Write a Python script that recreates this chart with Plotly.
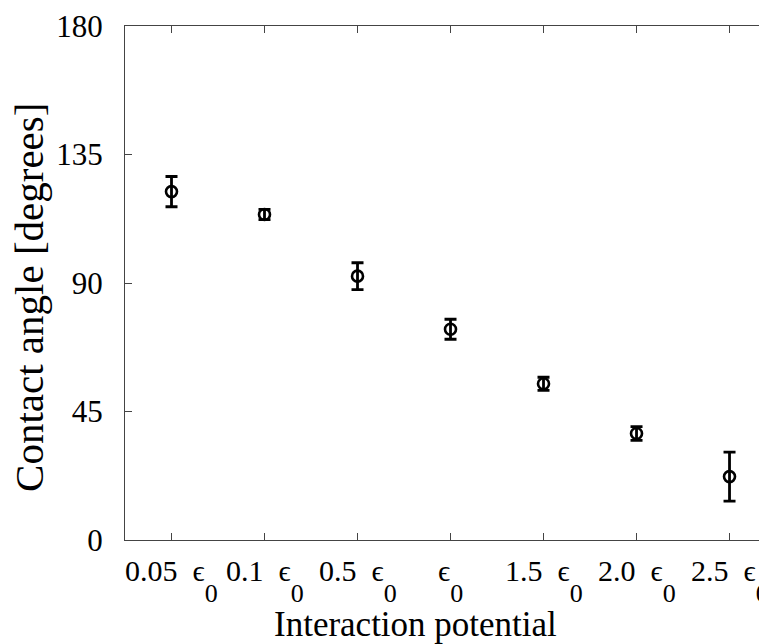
import plotly.graph_objects as go

NB = "\u00a0\u00a0"
SUB0 = "<span style='font-size:26px;baseline-shift:-21px'>0</span>"
categories = ["0.05" + NB + "ϵ", "0.1" + NB + "ϵ", "0.5" + NB + "ϵ", "ϵ",
              "1.5" + NB + "ϵ", "2.0" + NB + "ϵ", "2.5" + NB + "ϵ"]
angles = [122.0, 114.0, 92.4, 73.8, 54.7, 37.3, 22.2]
errors = [5.3, 1.8, 4.7, 3.5, 2.3, 2.4, 8.6]
y_ticks = [0, 45, 90, 135, 180]

x_idx = list(range(len(categories)))

fig = go.Figure()
fig.add_trace(go.Scatter(
    x=x_idx, y=angles, mode="markers",
    marker=dict(symbol="circle-open", size=11, color="black", line=dict(width=2.6, color="black")),
    error_y=dict(type="data", array=errors, visible=True, color="black", thickness=2.8, width=6),
    showlegend=False,
))

font_family = "Liberation Serif, Times New Roman, serif"
fig.update_layout(
    width=759, height=636,
    margin=dict(l=117, r=0, t=18, b=104),
    paper_bgcolor="white", plot_bgcolor="white",
    font=dict(family=font_family, color="black", size=30),
)
fig.update_xaxes(
    range=[-0.5, 6.403], tickmode="array", tickvals=x_idx, showticklabels=False,
    showline=True, linecolor="#444", linewidth=1.2, mirror="ticks",
    ticks="inside", ticklen=7, tickwidth=1.2, tickcolor="#444",
    showgrid=False, zeroline=False,
)
fig.update_yaxes(
    range=[0, 180], tickmode="array", tickvals=y_ticks,
    showline=True, linecolor="#444", linewidth=1.2, mirror=False,
    ticks="inside", ticklen=7, tickwidth=1.2, tickcolor="#444",
    showgrid=False, zeroline=False,
    tickfont=dict(size=31, family=font_family),
    ticklabelstandoff=15,
)
for xi, lab in zip(x_idx, categories):
    fig.add_annotation(
        text=lab + SUB0, xref="x", yref="paper", x=xi, y=0,
        xanchor="center", yanchor="top", yshift=-12, showarrow=False,
        font=dict(size=30, family=font_family, color="black"),
    )
fig.add_annotation(
    text="Interaction potential", xref="paper", yref="paper",
    x=0.453, y=-0.165, xanchor="center", yanchor="middle", showarrow=False,
    font=dict(size=35, family=font_family, color="black"),
)
fig.add_annotation(
    text="Contact angle [degrees]", xref="paper", yref="paper",
    x=-0.1495, y=0.471, xanchor="center", yanchor="middle", showarrow=False,
    textangle=-90,
    font=dict(size=41, family=font_family, color="black"),
)
fig.write_html("out.html")
